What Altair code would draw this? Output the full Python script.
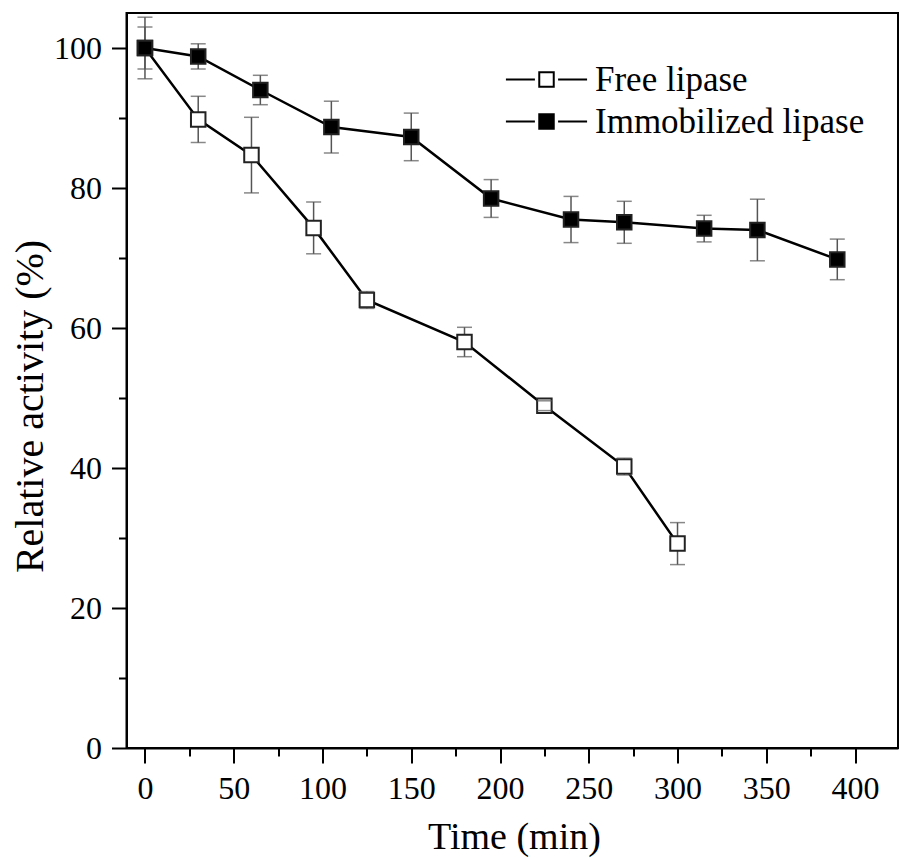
import altair as alt
import pandas as pd

# ---- data ----
free_time = [0, 30, 60, 95, 125, 180, 225, 270, 300]
free_act = [100, 89.8, 84.7, 74.3, 64.0, 58.0, 48.9, 40.2, 29.2]
free_err = [4.4, 3.3, 5.4, 3.7, 1.2, 2.1, 0.7, 1.2, 3.0]

imm_time = [0, 30, 65, 105, 150, 195, 240, 270, 315, 345, 390]
imm_act = [100, 98.8, 94.0, 88.7, 87.3, 78.5, 75.5, 75.1, 74.2, 74.0, 69.8]
imm_err = [3.0, 1.8, 2.1, 3.7, 3.4, 2.7, 3.3, 3.0, 1.9, 4.4, 2.9]

series_names = ["Free lipase", "Immobilized lipase"]
x_ticks = list(range(0, 401, 25))
y_ticks = list(range(0, 101, 10))

rows = []
for t, a, e in zip(free_time, free_act, free_err):
    rows.append({"series": series_names[0], "time": t, "act": a, "err": e})
for t, a, e in zip(imm_time, imm_act, imm_err):
    rows.append({"series": series_names[1], "time": t, "act": a, "err": e})
df = pd.DataFrame(rows)

FONT = "Liberation Serif"

xscale = alt.Scale(domain=[-10.4, 424.2], nice=False, zero=False)
yscale = alt.Scale(domain=[0, 105], nice=False, zero=False)

x_axis = alt.Axis(
    values=x_ticks,
    labelExpr="datum.value % 50 === 0 ? datum.label : ''",
    tickSize={"condition": {"test": "datum.value % 50 === 0", "value": 15}, "value": 8},
    title="Time (min)",
    titleFontSize=38,
    titleBaseline="alphabetic",
    titleY=100,
    titleX=387.5,
    labelFontSize=32,
    labelPadding=10,
    labelFlush=False,
    labelOverlap=False,
)
y_axis = alt.Axis(
    values=y_ticks,
    labelExpr="datum.value % 20 === 0 ? datum.label : ''",
    tickSize={"condition": {"test": "datum.value % 20 === 0", "value": 15}, "value": 8},
    title="Relative activity (%)",
    titleFontSize=40,
    titleBaseline="alphabetic",
    titleAngle=-90,
    titleX=-84.5,
    titleY=393,
    titleAlign="center",
    labelFontSize=32,
    labelPadding=10,
    labelFlush=False,
    labelOverlap=False,
)

base = alt.Chart(df)

x_enc = alt.X("time:Q", scale=xscale, axis=x_axis)

bars = base.transform_calculate(
    lo="datum.act - datum.err", hi="datum.act + datum.err"
).mark_rule(color="#555555", strokeWidth=1.5).encode(
    x=x_enc,
    y=alt.Y("lo:Q", scale=yscale, axis=y_axis),
    y2="hi:Q",
)

lines = base.mark_line(color="black", strokeWidth=2.5).encode(
    x=x_enc,
    y=alt.Y("act:Q", scale=yscale, axis=y_axis),
    detail="series:N",
)

legend_path = "M-5.6,0H-1.6M-1,-1H1V1H-1ZM1.6,0H5.6"

points = base.mark_square(size=210, stroke="#222222", strokeWidth=2, opacity=1).encode(
    x=x_enc,
    y=alt.Y("act:Q", scale=yscale, axis=y_axis),
    fill=alt.Fill(
        "series:N",
        scale=alt.Scale(domain=series_names, range=["white", "black"]),
        legend=alt.Legend(
            title=None,
            orient="none",
            legendX=402.5,
            legendY=49,
            symbolType=legend_path,
            symbolSize=210,
            symbolStrokeColor="black",
            symbolStrokeWidth=2,
            symbolOpacity=1,
            labelFont=FONT,
            labelFontSize=35,
            labelColor="black",
            labelOffset=31,
            labelLimit=0,
            rowPadding=6,
            padding=0,
        ),
    ),
)

caps = base.transform_calculate(
    lo="datum.act - datum.err", hi="datum.act + datum.err"
).transform_fold(["lo", "hi"], as_=["which", "v"]).mark_tick(
    orient="horizontal", size=15, thickness=1.5, color="#555555"
).encode(
    x=x_enc,
    y=alt.Y("v:Q", scale=yscale, axis=y_axis),
)

chart = alt.layer(bars, lines, points, caps).properties(
    width=771.5,
    height=735,
    autosize=alt.AutoSizeParams(type="none"),
    padding={"left": 126.5, "top": 13, "right": 2, "bottom": 111},
    background="white",
).configure_view(
    stroke="black", strokeWidth=2
).configure_axis(
    grid=False,
    domainColor="black",
    domainWidth=2,
    tickColor="black",
    tickWidth=2,
    labelColor="black",
    titleColor="black",
    labelFont=FONT,
    titleFont=FONT,
    titleFontWeight="normal",
)

chart.save("out.html", embed_options={"renderer": "svg", "actions": False})
